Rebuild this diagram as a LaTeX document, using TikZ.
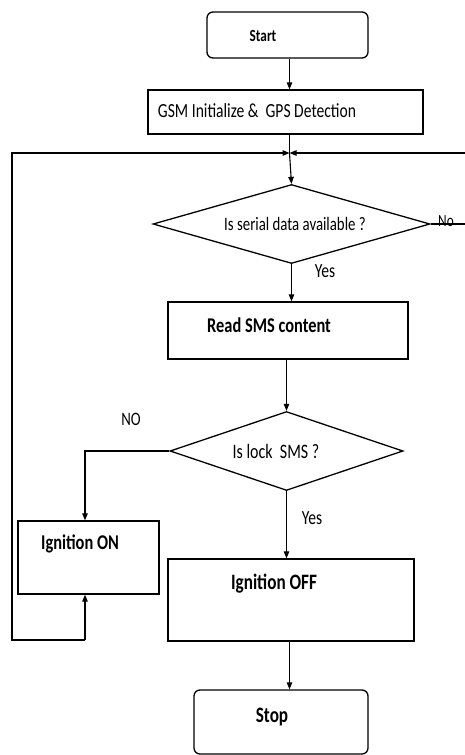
\documentclass[tikz,border=0pt]{standalone}
\usepackage{fontspec}
\setmainfont[FakeStretch=0.78]{Carlito}
\usetikzlibrary{shapes.geometric,arrows.meta}
\begin{document}
\begin{tikzpicture}[x=1pt,y=-1pt,
  line width=1.1pt,
  box/.style={draw, line width=1.3pt, inner sep=0pt},
  rbox/.style={box, rounded corners=6pt},
  dia/.style={draw, diamond, line width=1.3pt, inner sep=0pt},
  arr/.style={-{Triangle[length=7pt,width=5.5pt]}},
  lbl/.style={inner sep=0pt, anchor=center},
  fs/.style={font=\fontsize{#1}{#1}\selectfont},
  fb/.style={font=\fontsize{#1}{#1}\selectfont\bfseries},
]
\useasboundingbox (0,0) rectangle (465,755);
% shapes
\node[rbox, minimum width=161pt, minimum height=46pt] (start) at (287.5,35) {};
\node[box, minimum width=275pt, minimum height=44pt] (gsm) at (285.5,112) {};
\node[dia, minimum width=277pt, minimum height=79pt] (d1) at (291.5,224) {};
\node[box, minimum width=240pt, minimum height=57pt] (read) at (288,330.5) {};
\node[dia, minimum width=233pt, minimum height=79pt] (d2) at (286.5,451) {};
\node[box, minimum width=141pt, minimum height=73pt] (ignon) at (88.5,557.5) {};
\node[box, minimum width=246pt, minimum height=82pt] (ignoff) at (291,600) {};
\node[rbox, minimum width=174pt, minimum height=64pt] (stop) at (281,722) {};
% texts
\node[lbl, fb=17] (tstart) at (263,36) {Start};
\node[lbl, fs=20] (tgsm) at (257,111) {GSM Initialize \&\ \ GPS Detection};
\node[lbl, fs=19] (td1) at (295,224) {Is serial data available ?};
\node[lbl, fb=21] (tread) at (269,325) {Read SMS content};
\node[lbl, fs=20.5] (td2) at (276,451) {Is lock\ \ SMS ?};
\node[lbl, fb=21] (tignon) at (80,544) {Ignition ON};
\node[lbl, fb=22] (tignoff) at (274,584) {Ignition OFF};
\node[lbl, fb=22] (tstop) at (272,717) {Stop};
% coordinates
\coordinate (cx) at (289.5,0);
\coordinate (j) at (289.5,153);
\coordinate (rr) at (466,224);
\coordinate (lb) at (12,640);
\coordinate (lc) at (85,640);
\coordinate (lt) at (85,451);
% connectors
\draw[arr] (start.south -| cx) -- (gsm.north -| cx);
\draw (gsm.south -| cx) -- (j);
\draw[arr] (j) -- (d1.north);
\draw[arr] (d1.south) -- (read.north -| d1.south);
\draw[arr] (read.south -| d2.north) -- (d2.north);
\draw[arr] (d2.south) -- (ignoff.north -| d2.south);
\draw[arr] (ignoff.south -| cx) -- (stop.north -| cx);
\draw[arr] (d1.east) -- (rr) |- (j);
\draw[arr] (d2.west) -- (lt) -- (ignon.north -| lt);
\draw[arr] (lc) -- (ignon.south -| lc);
\draw[arr] (lc) -- (lb) |- (j);
% branch labels
\node[lbl, fs=17] (no1) at (446,221) {No};
\node[lbl, fs=20] (yes1) at (325,271) {Yes};
\node[lbl, fs=19] (no2) at (131,419) {NO};
\node[lbl, fs=20] (yes2) at (312,518) {Yes};
\end{tikzpicture}
\end{document}
